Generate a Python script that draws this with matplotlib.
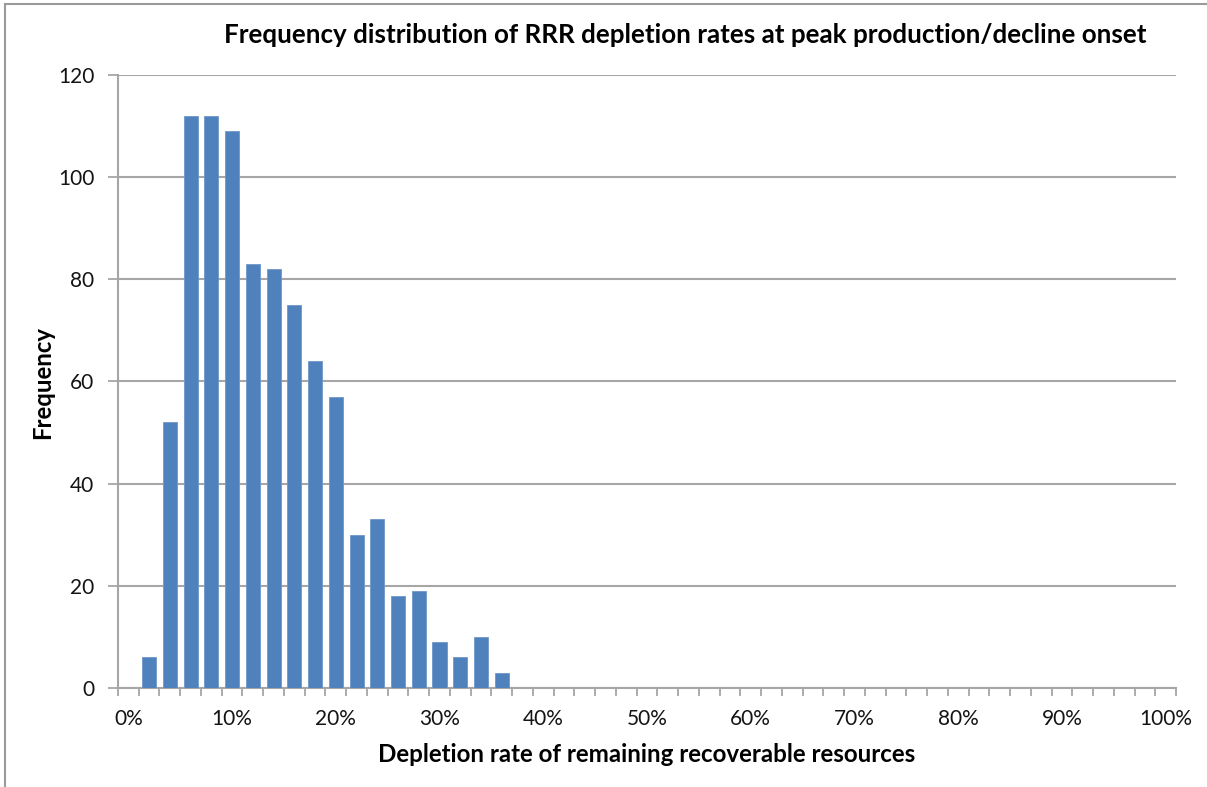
import matplotlib
matplotlib.use("Agg")
import matplotlib.pyplot as plt
from matplotlib.patches import Rectangle

# Data: depletion-rate categories (%) and frequencies
categories = [0, 2, 4, 6, 8, 10, 12, 14, 16, 18, 20, 22, 24, 26, 28, 30, 32, 34, 36, 38,
              40, 42, 44, 46, 48, 50, 52, 54, 56, 58, 60, 62, 64, 66, 68, 70, 72, 74, 76, 78,
              80, 82, 84, 86, 88, 90, 92, 94, 96, 98, 100]
frequency = [0, 6, 52, 112, 112, 109, 83, 82, 75, 64, 57, 30, 33, 18, 19, 9, 6, 10, 3, 0,
             0, 0, 0, 0, 0, 0, 0, 0, 0, 0, 0, 0, 0, 0, 0, 0, 0, 0, 0, 0,
             0, 0, 0, 0, 0, 0, 0, 0, 0, 0, 0]
y_ticks = [0, 20, 40, 60, 80, 100, 120]

title = "Frequency distribution of RRR depletion rates at peak production/decline onset"
xlabel = "Depletion rate of remaining recoverable resources"
ylabel = "Frequency"

FONT = ["Lato", "DejaVu Sans"]
plt.rcParams["font.family"] = FONT

W, H = 1207, 787
fig = plt.figure(figsize=(W / 100, H / 100), dpi=100)
fig.patch.set_facecolor("white")

# outer chart border (top & left visible)
fig.add_artist(Rectangle((5 / W, -0.1), 1.2, (1 - 4 / H) + 0.1, transform=fig.transFigure,
                         fill=False, edgecolor="#9a9a9a", linewidth=1.5))

left, right, top, bottom = 118, 1176, 75, 688
ax = fig.add_axes([left / W, 1 - bottom / H, (right - left) / W, (bottom - top) / H])

grid_col = "#a6a6a6"
xpos = list(range(len(categories)))
ax.bar(xpos, frequency, width=0.68, color="#4f81bd", edgecolor="#6f97c9", linewidth=0.6, zorder=3)

ax.set_xlim(-0.5, len(categories) - 0.5)
ax.set_ylim(0, 120)
ax.set_yticks(y_ticks)
ax.set_yticklabels([str(v) for v in y_ticks])
ax.yaxis.grid(True, color=grid_col, linewidth=1.5, zorder=0)

# category boundary ticks, labels every 5th category
ax.set_xticks([i - 0.5 for i in range(len(categories) + 1)])
ax.set_xticklabels([])
ax.set_xticks([i for i in xpos if i % 5 == 0], minor=True)
ax.set_xticklabels([f"{categories[i]}%" for i in xpos if i % 5 == 0], minor=True)
ax.tick_params(axis="x", which="major", length=6, width=1.3, color=grid_col, direction="out")
ax.tick_params(axis="x", which="minor", length=0, pad=15, labelsize=15, labelcolor="#141414")
ax.tick_params(axis="y", length=7, width=1.3, color=grid_col, pad=10, labelsize=15,
               labelcolor="#141414")

for s in ["top", "right"]:
    ax.spines[s].set_visible(False)
for s in ["left", "bottom"]:
    ax.spines[s].set_color(grid_col)
    ax.spines[s].set_linewidth(1.5)

fig.text(685.5 / W, 1 - 35 / H, title, ha="center", va="center", fontsize=18.7,
         fontweight="bold", color="black")
fig.text(647 / W, 1 - 754 / H, xlabel, ha="center", va="center", fontsize=17.4,
         fontweight="bold", color="black")
fig.text(43 / W, 1 - 383 / H, ylabel, ha="center", va="center", fontsize=17.2,
         fontweight="bold", rotation=90, color="black")

fig.savefig("out.png", dpi=100, facecolor="white")
